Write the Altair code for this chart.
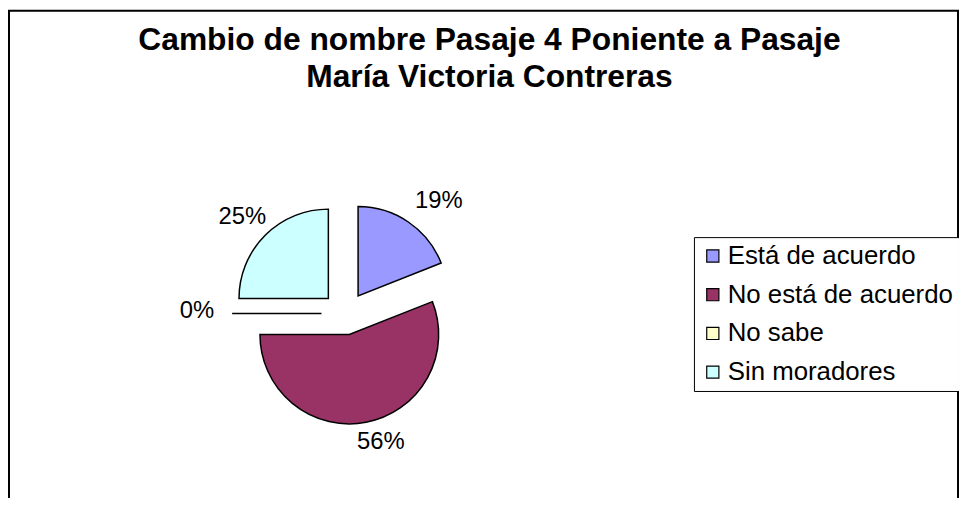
import altair as alt
import pandas as pd

# ---- data ----
categorias = ["Está de acuerdo", "No está de acuerdo", "No sabe", "Sin moradores"]
valores = [19, 56, 0, 25]
colores = ["#9999FF", "#993366", "#FFFFCC", "#CCFFFF"]
titulo = ["Cambio de nombre Pasaje 4 Poniente a Pasaje", "María Victoria Contreras"]

df = pd.DataFrame({"categoria": categorias, "valor": valores,
                   "orden": list(range(len(categorias)))})

# ---- layout / style ----
W, H = 958, 490
CX, CY = 339.4, 306.0      # pie centre
R = 90                      # pie radius
DX, DY = 23.6, 21.5         # explosion offset
LCX, LCY = 7, -2.5          # label centre shift
LX, LY = 156, 134           # label radius
FONT = "Liberation Sans, Arial, sans-serif"

base = (
    alt.Chart(df)
    .transform_joinaggregate(total="sum(valor)")
    .transform_window(cum="sum(valor)", sort=[alt.SortField("orden")], frame=[None, 0])
    .transform_calculate(a0="2*PI*(datum.cum - datum.valor)/datum.total")
    .transform_calculate(a1="2*PI*datum.cum/datum.total")
    .transform_calculate(mid="(datum.a0 + datum.a1)/2")
    .transform_calculate(px=f"{CX} + {DX}*sin(datum.mid)")
    .transform_calculate(py=f"{CY} - {DY}*cos(datum.mid)")
    .transform_calculate(lx=f"{CX + LCX} + {LX}*sin(datum.mid)")
    .transform_calculate(ly=f"{CY + LCY} - {LY}*cos(datum.mid)")
    .transform_calculate(etiqueta="format(datum.valor/datum.total, '.0%')")
)

arcs = base.mark_arc(outerRadius=R, stroke="black", strokeWidth=1.5).encode(
    x=alt.X("px:Q", scale=None, axis=None),
    y=alt.Y("py:Q", scale=None, axis=None),
    theta=alt.Theta("a0:Q", scale=None, stack=None),
    theta2="a1:Q",
    color=alt.Color(
        "categoria:N",
        sort=categorias,
        scale=alt.Scale(domain=categorias, range=colores),
        legend=alt.Legend(
            title=None, orient="none", legendX=691, legendY=229,
            direction="vertical", padding=6,
            strokeColor="black", fillColor="white",
            symbolType="square", symbolSize=150,
            symbolStrokeColor="black", symbolStrokeWidth=1.2,
            symbolOpacity=1,
            labelFont=FONT, labelFontSize=26, labelColor="black",
            labelLimit=400, rowPadding=13, labelOffset=2,
        ),
    ),
)

labels = base.mark_text(font=FONT, fontSize=24, color="black",
                        align="center", baseline="middle").encode(
    x=alt.X("lx:Q", scale=None, axis=None),
    y=alt.Y("ly:Q", scale=None, axis=None),
    text="etiqueta:N",
)

frame = alt.Chart(pd.DataFrame({"k": [0]})).mark_rect(
    filled=False, stroke="black", strokeWidth=2
).encode(
    x=alt.value(1), x2=alt.value(W - 1), y=alt.value(1), y2=alt.value(H + 30)
)

chart = (
    alt.layer(frame, arcs, labels)
    .properties(
        width=W, height=H, padding=0, background="white",
        autosize=alt.AutoSizeParams(type="none"),
        title=alt.TitleParams(
            text=titulo, font=FONT, fontSize=32, fontWeight="bold", color="black",
            anchor="middle", frame="group", baseline="alphabetic",
            lineHeight=37, offset=-110, dx=6,
        ),
    )
    .configure_view(stroke=None)
)

chart.save("out.html", embed_options={"renderer": "svg", "actions": False})
